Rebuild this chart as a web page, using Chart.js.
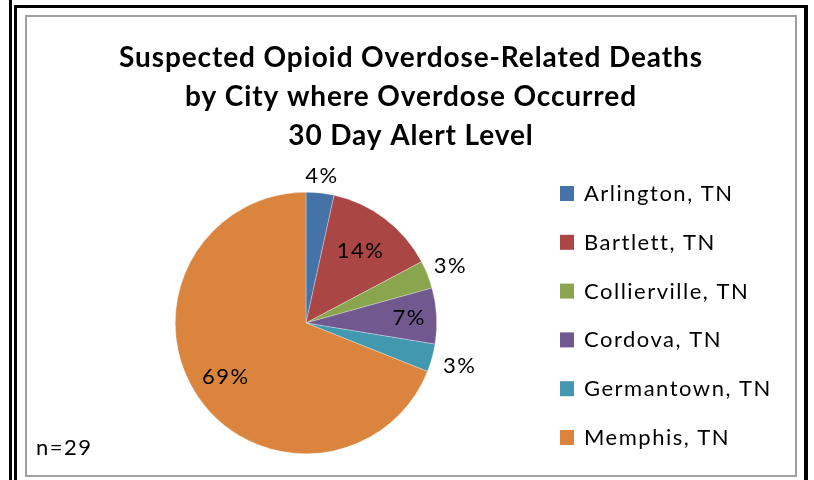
<!DOCTYPE html>
<html lang="en">
<head>
<script src="https://cdn.jsdelivr.net/npm/chart.js@4.4.0/dist/chart.umd.min.js"></script>
<style>
    body { margin: 0; background: #fff; }
    .line { position: absolute; }
    #chart-box { position: absolute; left: 0; top: 0; width: 814px; height: 480px; }
</style>
</head>
<body>

<!-- frame lines -->
<div class="line" style="left:9px;top:0;width:3px;height:480px;background:#000"></div>
<div class="line" style="left:14px;top:5px;width:3px;height:475px;background:#000"></div>
<div class="line" style="left:14px;top:5px;width:794px;height:3px;background:#000"></div>
<div class="line" style="left:804px;top:5px;width:4px;height:475px;background:#000"></div>
<div class="line" style="left:25px;top:15px;width:768px;height:458px;border:2px solid #a0a0a0"></div>

<div id="chart-box">
    <canvas id="pie-chart" width="814" height="480"></canvas>
</div>

<script>
const cities = ["Arlington, TN", "Bartlett, TN", "Collierville, TN", "Cordova, TN", "Germantown, TN", "Memphis, TN"];
const deaths = [1, 4, 1, 2, 1, 20];
const pctLabels = ["4%", "14%", "3%", "7%", "3%", "69%"];
const sliceColors = ["#4572A7", "#AA4643", "#89A54E", "#71588F", "#4198AF", "#DB843D"];
const titleLines = ["Suspected Opioid Overdose-Related Deaths", "by City where Overdose Occurred", "30 Day Alert Level"];
const noteText = "n=29";

const FONT = "Lato, 'Open Sans', sans-serif";

// labels placed inside / outside the pie (radius factor)
const labelRadius = [1.13, 0.69, 1.19, 0.79, 1.22, 0.74];

const extras = {
    id: "extras",
    afterDraw(chart) {
        const ctx = chart.ctx;
        ctx.save();
        ctx.fillStyle = "#000";
        ctx.textBaseline = "middle";

        // title
        ctx.textAlign = "center";
        ctx.font = "bold 28px " + FONT;
        ctx.letterSpacing = "0.9px";
        titleLines.forEach((t, i) => ctx.fillText(t, 411, 58 + i * 39));

        // percent labels
        ctx.font = "22px " + FONT;
        ctx.letterSpacing = "1.5px";
        const arcs = chart.getDatasetMeta(0).data;
        arcs.forEach((arc, i) => {
            const mid = (arc.startAngle + arc.endAngle) / 2;
            const r = arc.outerRadius * labelRadius[i];
            ctx.fillText(pctLabels[i], arc.x + Math.cos(mid) * r, arc.y + Math.sin(mid) * r);
        });

        // legend
        ctx.textAlign = "left";
        cities.forEach((c, i) => {
            const y = 194 + i * 48.8;
            ctx.fillStyle = sliceColors[i];
            ctx.fillRect(560, y - 8, 14, 15);
            ctx.fillStyle = "#000";
            ctx.fillText(c, 584, y);
        });

        // n
        ctx.fillText(noteText, 36, 448);
        ctx.restore();
    }
};

new Chart(document.getElementById("pie-chart"), {
    type: "pie",
    data: {
        labels: cities,
        datasets: [{
            data: deaths,
            backgroundColor: sliceColors,
            borderColor: "rgba(255,255,255,0.6)",
            borderWidth: 0.5
        }]
    },
    options: {
        responsive: false,
        animation: false,
        layout: { padding: { left: 175, right: 377, top: 192, bottom: 26 } },
        plugins: {
            legend: { display: false },
            title: { display: false },
            tooltip: { enabled: false }
        }
    },
    plugins: [extras]
});
</script>
</body>
</html>
